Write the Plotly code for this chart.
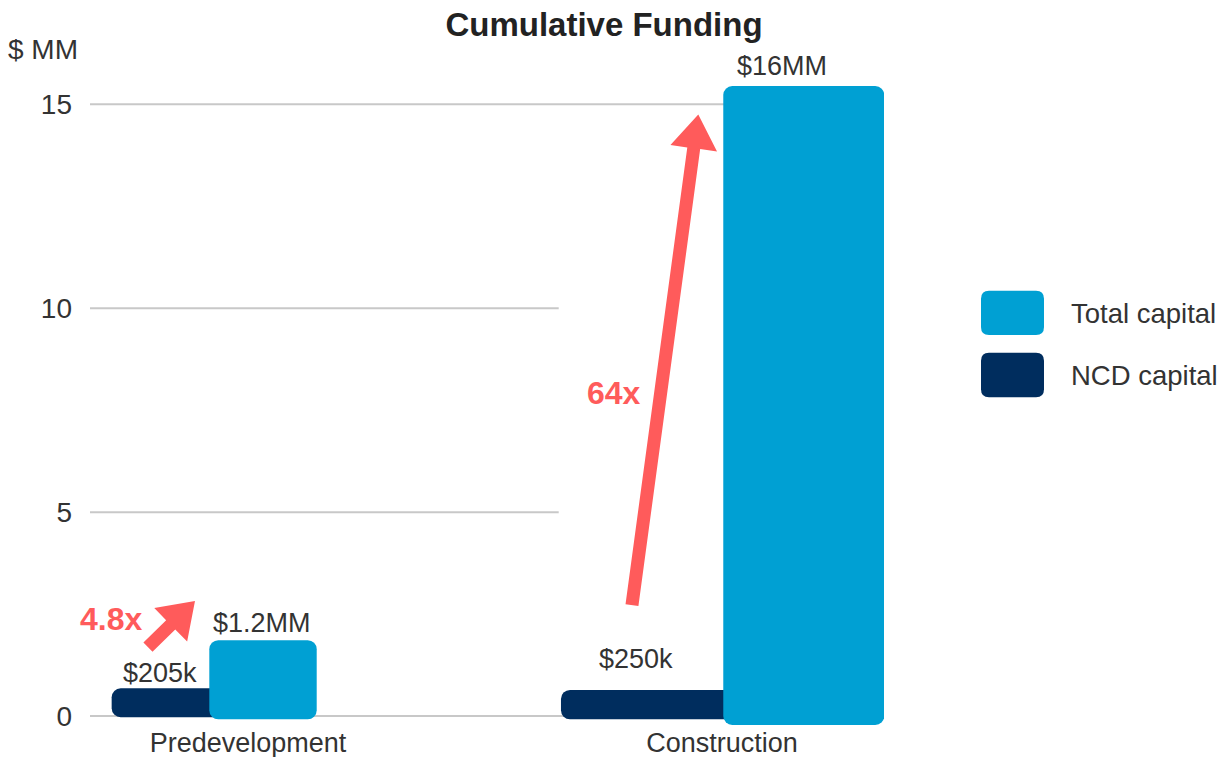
import math
import plotly.graph_objects as go

# ---------------- data ----------------
categories = ["Predevelopment", "Construction"]
series_names = ["Total capital", "NCD capital"]
# drawn bar extents on the $ MM axis, as they appear in the picture
ncd_top = [0.68, 0.64]
ncd_bottom = [-0.03, -0.08]
total_top = [1.86, 15.45]
total_bottom = [-0.08, -0.22]
ncd_labels = ["$205k", "$250k"]
total_labels = ["$1.2MM", "$16MM"]
multipliers = ["4.8x", "64x"]
y_ticks = [0, 5, 10, 15]
y_axis_title = "$ MM"
chart_title = "Cumulative Funding"

# ---------------- layout / style constants ----------------
W, H = 1231, 757
ML, MR, MT, MB = 90, 347, 64, 29
X_RANGE = [-0.3333, 1.3418]
Y_RANGE = [-0.294, 15.99]
PW, PH = W - ML - MR, H - MT - MB

C_TOTAL = "#00A0D3"
C_NCD = "#002D5E"
C_ARROW = "#FF5B5B"
C_GRID = "#C8C8C8"
C_TEXT = "#333333"
FONT = "Liberation Sans, Arial, sans-serif"

ncd_offset, ncd_width = [-0.2876, -0.3397], [0.238, 0.378]
total_offset, total_width = [-0.0816, 0.0027], [0.2266, 0.3397]
ncd_label_dx, ncd_label_y = [-0.1857, -0.181], [1.06, 1.41]
total_label_dx, total_label_y = [0.0295, 0.127], [2.29, 15.93]
# arrows: (tail x, tail y, tip x, tip y) in axis units
arrow_specs = [(-0.211, 1.69, -0.1118, 2.82), (0.8101, 2.72, 0.95, 14.75)]
mult_pos = [(-0.290, 2.38), (0.7728, 7.92)]
grid_extent_px = {0: 884, 5: 558.7, 10: 558.7, 15: 730}
RADIUS = 9


def x2px(v):
    return ML + (v - X_RANGE[0]) / (X_RANGE[1] - X_RANGE[0]) * PW


def y2px(v):
    return MT + (Y_RANGE[1] - v) / (Y_RANGE[1] - Y_RANGE[0]) * PH


def px2paper(px, py):
    return (px - ML) / PW, (H - MB - py) / PH


def rounded_rect_path(x0, y0, x1, y1, r):
    def P(px, py):
        a, b = px2paper(px, py)
        return f"{a:.5f},{b:.5f}"
    return (f"M{P(x0 + r, y0)} L{P(x1 - r, y0)} Q{P(x1, y0)} {P(x1, y0 + r)} "
            f"L{P(x1, y1 - r)} Q{P(x1, y1)} {P(x1 - r, y1)} L{P(x0 + r, y1)} "
            f"Q{P(x0, y1)} {P(x0, y1 - r)} L{P(x0, y0 + r)} Q{P(x0, y0)} {P(x0 + r, y0)} Z")


def arrow_path(tx, ty, hx, hy, shaft=13, head_w=47, head_l=34):
    x0, y0, x1, y1 = x2px(tx), y2px(ty), x2px(hx), y2px(hy)
    dx, dy = x1 - x0, y1 - y0
    L = math.hypot(dx, dy)
    ux, uy = dx / L, dy / L
    nx, ny = -uy, ux
    bx, by = x1 - ux * head_l, y1 - uy * head_l
    pts = [
        (x0 + nx * shaft / 2, y0 + ny * shaft / 2),
        (bx + nx * shaft / 2, by + ny * shaft / 2),
        (bx + nx * head_w / 2, by + ny * head_w / 2),
        (x1, y1),
        (bx - nx * head_w / 2, by - ny * head_w / 2),
        (bx - nx * shaft / 2, by - ny * shaft / 2),
        (x0 - nx * shaft / 2, y0 - ny * shaft / 2),
    ]
    s = []
    for i, (px, py) in enumerate(pts):
        a, b = px2paper(px, py)
        s.append(("M" if i == 0 else "L") + f"{a:.5f},{b:.5f}")
    return " ".join(s) + " Z"


fig = go.Figure()


def add_rounded_bars(name, tops, bottoms, offsets, widths, color, labels):
    # with an explicit base, plotly rounds both ends of the bar
    fig.add_trace(go.Bar(
        x=categories, y=[t - b for t, b in zip(tops, bottoms)], base=bottoms,
        offset=offsets, width=widths,
        marker=dict(color=color, line=dict(width=0), cornerradius=RADIUS),
        name=name, showlegend=False, hovertext=labels, hoverinfo="text+name"))


add_rounded_bars(series_names[1], ncd_top, ncd_bottom, ncd_offset, ncd_width, C_NCD, ncd_labels)
add_rounded_bars(series_names[0], total_top, total_bottom, total_offset, total_width, C_TOTAL, total_labels)

shapes = []
# gridlines
for v in y_ticks:
    x_end = (grid_extent_px[v] - ML) / PW
    shapes.append(dict(type="line", xref="paper", yref="y", x0=0, x1=x_end, y0=v, y1=v,
                       line=dict(color=C_GRID, width=2), layer="below"))
# arrows
for (tx, ty, hx, hy) in arrow_specs:
    shapes.append(dict(type="path", xref="paper", yref="paper", path=arrow_path(tx, ty, hx, hy),
                       fillcolor=C_ARROW, line=dict(width=0), layer="above"))
# custom legend swatches
legend_items = [(series_names[0], C_TOTAL, 290.7, 335.0, 313), (series_names[1], C_NCD, 352.7, 397.3, 375)]
for _, col, y0, y1, _c in legend_items:
    shapes.append(dict(type="path", xref="paper", yref="paper",
                       path=rounded_rect_path(981, y0, 1044, y1, 8),
                       fillcolor=col, line=dict(width=0), layer="above"))

annotations = []
for i, cat in enumerate(categories):
    annotations.append(dict(x=i + ncd_label_dx[i], y=ncd_label_y[i], xref="x", yref="y",
                            text=ncd_labels[i], showarrow=False, xanchor="center", yanchor="middle",
                            font=dict(family=FONT, size=27, color=C_TEXT)))
    annotations.append(dict(x=i + total_label_dx[i], y=total_label_y[i], xref="x", yref="y",
                            text=total_labels[i], showarrow=False, xanchor="center", yanchor="middle",
                            font=dict(family=FONT, size=27, color=C_TEXT)))
for txt, (mx, my) in zip(multipliers, mult_pos):
    annotations.append(dict(x=mx, y=my, xref="x", yref="y", text=txt, showarrow=False,
                            xanchor="center", yanchor="middle",
                            font=dict(family=FONT, size=32, color=C_ARROW, weight="bold")))
for name, _col, _y0, _y1, yc in legend_items:
    px_, py_ = px2paper(1069, yc)
    annotations.append(dict(x=px_, y=py_, xref="paper", yref="paper", text=name, showarrow=False,
                            xanchor="left", yanchor="middle",
                            font=dict(family=FONT, size=27.5, color=C_TEXT)))
ax_, ay_ = px2paper(6, 50)
annotations.append(dict(x=ax_, y=ay_, xref="paper", yref="paper", text=y_axis_title, showarrow=False,
                        xanchor="left", yanchor="middle", font=dict(family=FONT, size=28, color=C_TEXT)))

fig.update_layout(
    width=W, height=H,
    margin=dict(l=ML, r=MR, t=MT, b=MB, pad=0, autoexpand=False),
    paper_bgcolor="white", plot_bgcolor="white",
    barmode="overlay",
    showlegend=False,
    title=dict(text=chart_title, x=604 / W, xref="container", xanchor="center",
               y=1 - 24 / H, yref="container", yanchor="middle",
               font=dict(family=FONT, size=33, color="#222222", weight="bold")),
    xaxis=dict(type="category", categoryarray=categories, range=X_RANGE, showgrid=False,
               zeroline=False, showline=False, ticks="", fixedrange=True, automargin=False,
               tickfont=dict(family=FONT, size=27, color=C_TEXT), ticklabelstandoff=-4),
    yaxis=dict(range=Y_RANGE, tickvals=y_ticks, showgrid=False, zeroline=False, showline=False,
               ticks="", tickfont=dict(family=FONT, size=28, color=C_TEXT), ticklabelstandoff=17,
               fixedrange=True, automargin=False),
    shapes=shapes,
    annotations=annotations,
    font=dict(family=FONT, color=C_TEXT),
)

fig.write_html("out.html")
